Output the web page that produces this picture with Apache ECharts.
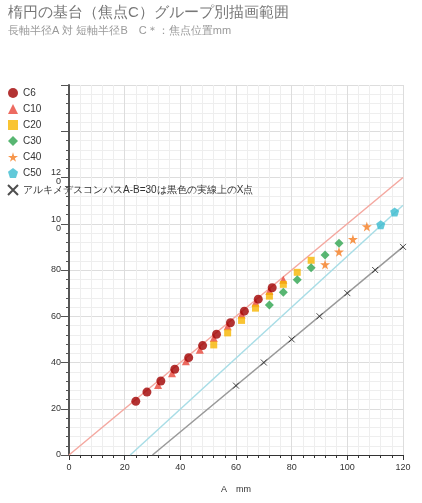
<!DOCTYPE html><html><head><meta charset="utf-8"><script src="https://cdn.jsdelivr.net/npm/echarts@6/dist/echarts.min.js"></script>
<style>html,body{margin:0;padding:0;background:#fff}#c{width:422px;height:503px}</style></head><body><div id="c"></div><script>
const c6A=[24,28,33,38,43,48,53,58,63,68,73], c6B=[23.2,27.2,32,37.1,42.1,47.3,52.2,57.2,62.2,67.4,72.3];
const c10A=[32,37,42,47,52,57,62,67,72,77], c10B=[30.3,35.3,40.5,45.5,50.6,55.7,60.8,65.8,70.9,75.8];
const c20A=[52,57,62,67,72,77,82,87], c20B=[47.6,52.8,58.2,63.5,68.7,73.8,79,84.2];
const c30A=[72,77,82,87,92,97], c30B=[64.9,70.4,75.8,81,86.5,91.6];
const c40A=[92,97,102,107], c40B=[82.4,87.9,93.3,98.8];
const c50A=[112,117], c50B=[99.6,105.1];
const xA=[60,70,80,90,100,110,120], xB=[30,40,50,60,70,80,90];
const pinkLine=[[0,0],[120,120]], cyanLine=[[22,0],[120,108]], grayLine=[[30,0],[120,90]];
const zip=(a,b)=>a.map((v,i)=>[v,b[i]]);
const ch=echarts.init(document.getElementById('c'));
const sc=(name,sym,color,a,b,size)=>({name,type:'scatter',symbol:sym,symbolSize:size||8,itemStyle:{color},data:zip(a,b),z:3});
ch.setOption({
 animation:false,
 title:{text:'楕円の基台（焦点C）グループ別描画範囲',subtext:'長軸半径A 対 短軸半径B　C＊：焦点位置mm',left:3,top:0,textStyle:{color:'#777',fontSize:15,fontWeight:'normal'},subtextStyle:{color:'#999',fontSize:11},itemGap:5},
 legend:{orient:'vertical',left:2,top:83,itemGap:6,itemWidth:10,itemHeight:10,textStyle:{fontSize:10,color:'#333'},
   data:['C6','C10','C20','C30','C40','C50','アルキメデスコンパスA-B=30は黒色の実線上のX点']},
 grid:{left:69,right:19,top:85,bottom:48},
 xAxis:{type:'value',min:0,max:120,interval:20,name:'A　mm',nameLocation:'middle',nameGap:30,nameTextStyle:{fontSize:9,color:'#333'},
   axisLine:{lineStyle:{color:'#333'}},axisLabel:{fontSize:9,color:'#333'},axisTick:{show:true},
   splitLine:{lineStyle:{color:'#ddd'}},minorTick:{show:true,splitNumber:5},minorSplitLine:{show:true,lineStyle:{color:'#eee'}}},
 yAxis:{type:'value',min:0,max:160,interval:20,axisLine:{show:true,lineStyle:{color:'#555',width:2}},
   axisLabel:{fontSize:9,color:'#333',width:14,overflow:'break',formatter:v=>v>120?'':v},axisTick:{show:true,length:8},
   splitLine:{lineStyle:{color:'#ddd'}},minorTick:{show:true,splitNumber:5},minorSplitLine:{show:true,lineStyle:{color:'#eee'}}},
 series:[
  {type:'line',data:pinkLine,symbol:'none',lineStyle:{color:'#f4a8a0',width:1.5},z:1,silent:true},
  {type:'line',data:cyanLine,symbol:'none',lineStyle:{color:'#a8dde6',width:1.5},z:1,silent:true},
  {type:'line',data:grayLine,symbol:'none',lineStyle:{color:'#999',width:1.5},z:1,silent:true},
  sc('C10','triangle','#e8463a',c10A,c10B,8),
  sc('C6','circle','#a00000',c6A,c6B,9),
  sc('C20','rect','#f8b500',c20A,c20B,7),
  sc('C30','diamond','#2ea44f',c30A,c30B,9),
  {name:'C40',type:'scatter',symbol:'path://M50,0 L61,35 L98,35 L68,57 L79,91 L50,70 L21,91 L32,57 L2,35 L39,35 Z',symbolSize:10,itemStyle:{color:'#f57c1f'},data:zip(c40A,c40B)},
  {name:'C50',type:'scatter',symbol:'path://M50,0 L98,35 L79,95 L21,95 L2,35 Z',symbolSize:9,itemStyle:{color:'#3bbcd0'},data:zip(c50A,c50B)},
  {name:'アルキメデスコンパスA-B=30は黒色の実線上のX点',type:'scatter',symbol:'path://M0,0 L10,10 M10,0 L0,10',symbolSize:6,itemStyle:{color:'#222',borderColor:'#222',borderWidth:1},data:zip(xA,xB)}
 ]});
</script></body></html>
